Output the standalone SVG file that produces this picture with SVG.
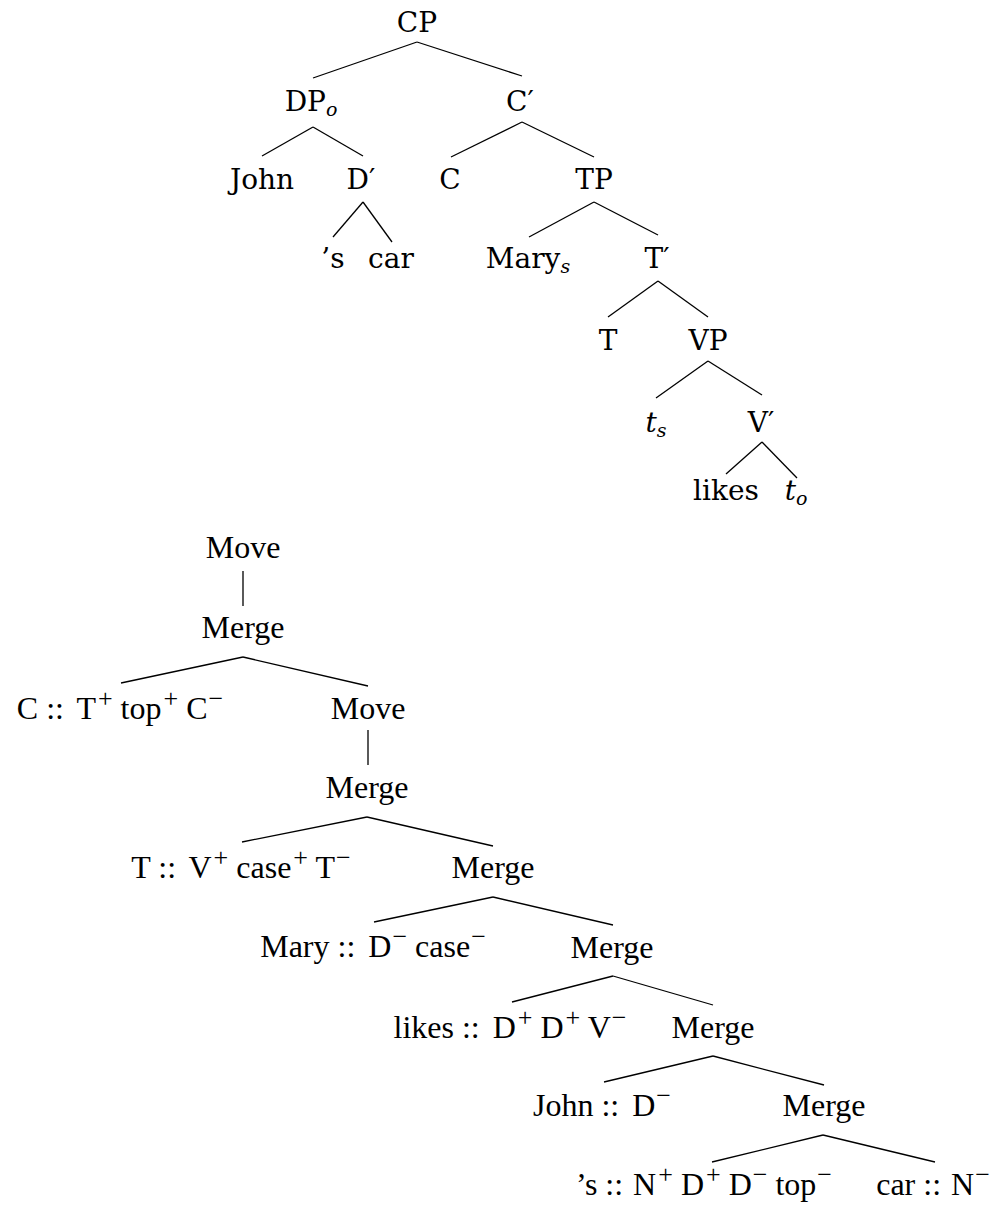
<svg xmlns="http://www.w3.org/2000/svg" width="998" height="1207" viewBox="0 0 998 1207">
<style>
.t{font-family:"DejaVu Serif","Liberation Serif",serif;font-size:28px;fill:#000;text-anchor:middle}
.b{font-family:"Liberation Serif","DejaVu Serif",serif;font-size:32px;fill:#000;text-anchor:middle}
.sub{font-style:italic;font-size:19px}
.it{font-style:italic}
.sup{font-size:26px}
.e line{stroke:#000;stroke-width:1.3;fill:none}
</style>
<rect width="998" height="1207" fill="#fff"/>
<g class="e" id="connectors">
<line x1="417" y1="42" x2="313" y2="78"/>
<line x1="417" y1="42" x2="522" y2="76"/>
<line x1="313" y1="127" x2="262" y2="156"/>
<line x1="313" y1="127" x2="363" y2="156"/>
<line x1="522" y1="122" x2="451" y2="157"/>
<line x1="522" y1="122" x2="594" y2="157"/>
<line x1="363" y1="202" x2="333" y2="237"/>
<line x1="363" y1="202" x2="392" y2="242"/>
<line x1="594" y1="202" x2="529" y2="237"/>
<line x1="594" y1="202" x2="658" y2="235"/>
<line x1="658" y1="281" x2="608" y2="317"/>
<line x1="658" y1="281" x2="708" y2="317"/>
<line x1="708" y1="361" x2="656" y2="398"/>
<line x1="708" y1="361" x2="762" y2="395"/>
<line x1="762" y1="442" x2="726" y2="474"/>
<line x1="762" y1="442" x2="797" y2="478"/>
<line x1="243" y1="571" x2="243" y2="606"/>
<line x1="243" y1="657" x2="121" y2="683"/>
<line x1="243" y1="657" x2="368" y2="686"/>
<line x1="368" y1="730" x2="368" y2="765"/>
<line x1="367" y1="817" x2="242" y2="842"/>
<line x1="367" y1="817" x2="493" y2="846"/>
<line x1="493" y1="897" x2="374" y2="922"/>
<line x1="493" y1="897" x2="613" y2="925"/>
<line x1="613" y1="976" x2="512" y2="1002"/>
<line x1="613" y1="976" x2="713" y2="1005"/>
<line x1="713" y1="1056" x2="604" y2="1082"/>
<line x1="713" y1="1056" x2="824" y2="1085"/>
<line x1="823" y1="1135" x2="712" y2="1162"/>
<line x1="823" y1="1135" x2="935" y2="1162"/>
</g>
<g id="CP"><text class="t" x="417" y="32">CP</text></g>
<g id="DPo"><text class="t" x="311" y="111">DP<tspan class="sub" dy="5">o</tspan></text></g>
<g id="Cbar"><text class="t" x="520" y="111">C′</text></g>
<g id="John"><text class="t" x="262" y="189">John</text></g>
<g id="Dbar"><text class="t" x="361" y="189">D′</text></g>
<g id="C"><text class="t" x="450" y="189">C</text></g>
<g id="TP"><text class="t" x="594" y="189">TP</text></g>
<g id="s"><text class="t" x="333" y="268">’s</text></g>
<g id="car"><text class="t" x="391" y="268">car</text></g>
<g id="Marys"><text class="t" x="528" y="268">Mary<tspan class="sub" dy="5">s</tspan></text></g>
<g id="Tbar"><text class="t" x="657" y="268">T′</text></g>
<g id="T"><text class="t" x="608" y="350">T</text></g>
<g id="VP"><text class="t" x="708" y="350">VP</text></g>
<g id="ts"><text class="t" x="656" y="432"><tspan class="it">t</tspan><tspan class="sub" dy="5">s</tspan></text></g>
<g id="Vbar"><text class="t" x="761" y="432">V′</text></g>
<g id="likes"><text class="t" x="726" y="500">likes</text></g>
<g id="to"><text class="t" x="796" y="500"><tspan class="it">t</tspan><tspan class="sub" dy="5">o</tspan></text></g>

<g id="Move1"><text class="b" x="243" y="558">Move</text></g>
<g id="Merge1"><text class="b" x="243" y="638">Merge</text></g>
<g id="Clex"><text class="b" x="120" y="719">C :: <tspan dx="5">T</tspan><tspan class="sup" dx="2" dy="-12">+</tspan><tspan dy="12"> top</tspan><tspan class="sup" dx="2" dy="-12">+</tspan><tspan dy="12"> C</tspan><tspan class="sup" dx="1" dy="-12">−</tspan></text></g>
<g id="Move2"><text class="b" x="368" y="719">Move</text></g>
<g id="Merge2"><text class="b" x="367" y="798">Merge</text></g>
<g id="Tlex"><text class="b" x="241" y="878">T :: <tspan dx="5">V</tspan><tspan class="sup" dx="2" dy="-12">+</tspan><tspan dy="12"> case</tspan><tspan class="sup" dx="2" dy="-12">+</tspan><tspan dy="12"> T</tspan><tspan class="sup" dx="1" dy="-12">−</tspan></text></g>
<g id="Merge3"><text class="b" x="493" y="878">Merge</text></g>
<g id="Marylex"><text class="b" x="373" y="957">Mary :: <tspan dx="5">D</tspan><tspan class="sup" dx="1" dy="-12">−</tspan><tspan dy="12"> case</tspan><tspan class="sup" dx="1" dy="-12">−</tspan></text></g>
<g id="Merge4"><text class="b" x="612" y="958">Merge</text></g>
<g id="likeslex"><text class="b" x="510" y="1038">likes :: <tspan dx="5">D</tspan><tspan class="sup" dx="2" dy="-12">+</tspan><tspan dy="12"> D</tspan><tspan class="sup" dx="2" dy="-12">+</tspan><tspan dy="12"> V</tspan><tspan class="sup" dx="1" dy="-12">−</tspan></text></g>
<g id="Merge5"><text class="b" x="713" y="1038">Merge</text></g>
<g id="Johnlex"><text class="b" x="602" y="1116">John :: <tspan dx="5">D</tspan><tspan class="sup" dx="1" dy="-12">−</tspan></text></g>
<g id="Merge6"><text class="b" x="824" y="1116">Merge</text></g>
<g id="slex"><text class="b" x="704" y="1195">’s :: <tspan dx="2">N</tspan><tspan class="sup" dx="2" dy="-12">+</tspan><tspan dy="12"> D</tspan><tspan class="sup" dx="2" dy="-12">+</tspan><tspan dy="12"> D</tspan><tspan class="sup" dx="1" dy="-12">−</tspan><tspan dy="12"> top</tspan><tspan class="sup" dx="1" dy="-12">−</tspan></text></g>
<g id="carlex"><text class="b" x="933" y="1195">car :: <tspan dx="2">N</tspan><tspan class="sup" dx="1" dy="-12">−</tspan></text></g>
</svg>
